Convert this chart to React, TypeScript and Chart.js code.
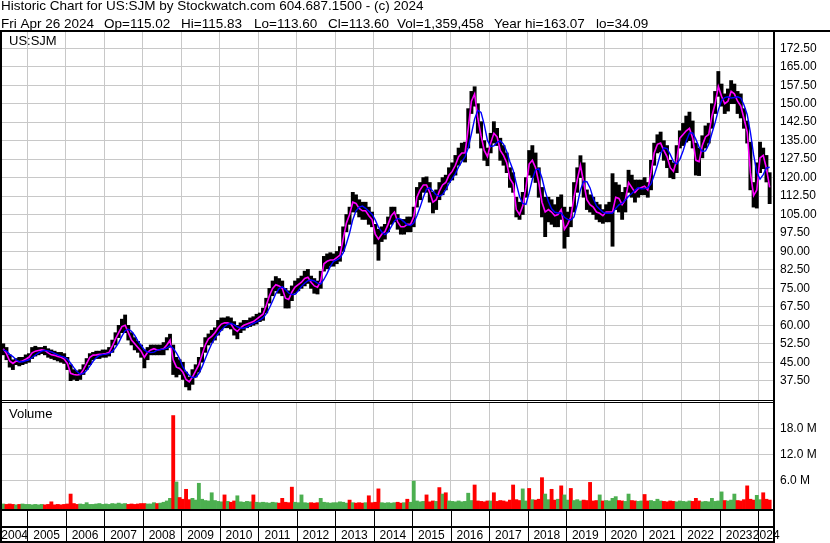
import React, { useEffect, useRef } from "react";
import { Chart, registerables } from "chart.js";

Chart.register(...registerables);

// ---------- data (monthly, May 2004 .. Apr 2024) ----------
const FIRST_YEAR = 2004;
const FIRST_MONTH = 5; // May

const HI = [
  52.5, 51, 48, 46, 46.5, 47, 47, 48,
  48.5, 51, 51.5, 51, 51, 51.5, 50.5, 50, 49.5, 49, 49, 48.5,
  47, 44, 42, 41.5, 42, 44, 46.5, 48.5, 49, 49.5, 49.5, 50,
  50, 51, 54, 57, 60, 62.5, 64.2, 60, 57, 55, 53.5, 52,
  50, 51, 52, 52, 52, 52, 53, 55, 56.4, 52, 47, 46,
  45, 41, 39, 42, 44, 47, 51, 55, 56.5, 58, 59, 62,
  63, 63, 63.5, 63, 61.5, 60, 61, 62, 62, 63, 63.5, 64.5,
  65, 67, 71, 75, 78, 79.8, 79, 78, 75, 74, 76, 78,
  79, 80, 82, 82.7, 80, 79, 78, 82, 88, 89, 89.5, 89,
  90, 92, 100, 105, 108, 114, 113, 111, 110, 110, 108, 106,
  101, 99, 100, 101, 104, 108, 108, 105, 103, 103, 104, 104,
  108, 116, 118, 120, 120.3, 118, 114, 115, 118, 120, 121, 124,
  126, 129, 132, 134, 134.4, 148, 155, 156.9, 150, 142.7, 135, 132,
  138, 142.7, 140, 136, 133, 130, 124, 122, 112, 110, 114, 120,
  131, 133, 130, 124, 116, 112, 112, 111, 109, 112, 113, 108,
  106, 108, 118, 124, 128.9, 126, 115, 113, 112, 110, 109, 107,
  109, 110, 121.6, 118, 117, 114, 116, 123, 121, 119, 119, 119,
  120, 118, 127, 134, 137.4, 138.5, 135, 133, 127, 126, 133, 139,
  142, 145, 146.6, 143, 134, 132, 137, 141, 142, 150, 155, 163.1,
  158, 154, 156, 159.4, 158, 155, 154, 148, 143, 134.4, 118, 126,
  134.4, 132, 129, 122,
];

const LO = [
  48, 46, 43, 42, 44, 43.5, 44, 44.5,
  45, 46.5, 47.5, 48, 48.5, 48, 47, 46.5, 46, 45.5, 45, 44.5,
  42, 37.5, 38, 37.5, 38, 40, 42, 44, 46, 46.5, 46.5, 47,
  47, 47.5, 49, 52, 55, 57, 57, 54, 52, 50, 49, 47,
  42.7, 46, 48, 48, 48, 48, 48, 50, 51, 40, 39, 40,
  38, 35, 33.7, 36, 39, 41, 45, 49, 52, 53, 54, 56,
  58, 59, 59, 58.5, 56, 54.5, 57, 58, 59, 59.5, 60, 60.5,
  61.5, 62, 65, 69, 72, 74, 73, 72, 67, 67, 70, 73,
  74, 75, 76, 77, 75, 73, 72.7, 75, 82, 83, 84, 84,
  85, 86, 90, 98, 101, 106, 106, 104, 103, 103, 101, 100,
  93, 86.4, 94, 95, 98, 101, 102, 99, 97, 97, 98, 98,
  100, 108, 111, 114, 114, 110, 105.6, 107, 111, 113, 115, 118,
  119, 121, 125, 127, 126.3, 132, 146, 149, 138, 132, 127, 124.8,
  130, 134, 133, 127, 125, 122, 116, 114, 104, 103, 105, 112,
  121, 120, 118, 112, 104, 96, 102, 101, 100, 100, 103, 91.3,
  96, 100, 106, 114, 120, 112, 107, 106, 105, 103, 102, 101.4,
  102, 102, 92.1, 107, 106, 103, 106, 114, 112, 110, 112, 113,
  113, 112, 115, 125, 130, 130.5, 127, 124, 120, 119.5, 122, 132,
  133, 134.4, 135, 132, 121, 120.8, 128, 132, 134, 140, 146, 153,
  149, 146, 147, 150, 150, 146, 144.2, 140, 134, 115, 108, 107.6,
  122, 123.6, 118.2, 109.4,
];

const MA_FAST = [
  50.5, 48.5, 45.5, 44.5, 45.5, 45.2, 45.5, 46.2,
  47, 48.8, 49.5, 49.8, 50, 49.8, 48.8, 48, 47.8, 47.3, 47, 46.3,
  44.5, 40.5, 40, 39.8, 40, 42, 44.5, 47, 47.9, 48, 48.2, 48.3,
  48.5, 49, 51.5, 54.5, 57, 59.5, 60, 57, 54, 52.5, 51, 49.5,
  47, 49, 50, 50.5, 50, 50.2, 50.5, 52, 54, 46, 43, 42.5,
  41, 38, 37, 39, 41.5, 44, 48, 52, 54.5, 55.5, 57, 59,
  60.5, 61, 61, 60.5, 58.5, 57.5, 59, 60, 60.5, 61, 61.5, 62.5,
  63.5, 64.5, 68, 72, 75, 76.5, 76, 75, 71, 70.5, 73.5, 75.5,
  76.5, 77.5, 79, 79.5, 77.5, 76, 75.5, 78, 85, 86, 86.5, 86.5,
  87.5, 88.5, 95, 101.5, 105, 110, 109.5, 107.5, 106.5, 106.5, 104.5, 103,
  97, 95, 97, 98, 101, 104.5, 106, 102, 100, 100, 101, 101,
  104, 112, 115, 117, 117, 114, 110, 111, 114.5, 117, 118, 121,
  122.5, 125, 128.5, 130, 130, 140, 151, 154, 144, 137, 131, 128.5,
  134, 138, 136.5, 131, 129, 126, 119.5, 117.5, 107, 105, 108.5, 116,
  125.5, 127, 124, 118, 110, 106, 107, 106, 104.5, 105, 107, 99,
  101, 104, 112, 119, 125, 118, 111, 109, 108, 106, 105.5, 104.5,
  106, 106, 106, 112, 111.5, 109, 111, 118, 116, 114, 115.5, 116,
  116.5, 115, 122, 130, 133.5, 134, 131, 128.5, 124, 122.5, 127, 136,
  137.5, 139, 140, 136, 127, 126.5, 133, 136.5, 137.5, 145, 150, 157,
  153, 150, 151, 155, 154, 151, 149, 144, 138.5, 122, 112.7, 115,
  128, 129, 123.7, 116,
];

const MA_SLOW = [
  50.0, 49.5, 48.2, 47.3, 46.0, 45.2, 45.2, 45.6,
  46.0, 46.9, 47.9, 48.8, 49.5, 49.8, 49.6, 49.2, 48.6, 48.0, 47.5, 47.1,
  46.3, 44.6, 42.8, 41.2, 40.1, 40.5, 41.6, 43.4, 45.4, 46.9, 47.8, 48.1,
  48.3, 48.5, 49.3, 50.9, 53.0, 55.6, 57.8, 58.4, 57.6, 55.9, 53.6, 51.8,
  50.0, 49.1, 48.9, 49.1, 49.9, 50.2, 50.3, 50.7, 51.7, 50.6, 48.8, 46.4,
  43.1, 41.1, 39.6, 38.8, 38.9, 40.4, 43.1, 46.4, 49.6, 52.5, 54.8, 56.5,
  58.0, 59.4, 60.4, 60.8, 60.3, 59.4, 58.9, 58.8, 59.3, 60.1, 60.8, 61.4,
  62.1, 63.0, 64.6, 67.0, 69.9, 72.9, 74.9, 75.6, 74.6, 73.1, 72.5, 72.6,
  74.0, 75.8, 77.1, 78.1, 78.4, 78.0, 77.1, 76.8, 78.6, 81.1, 83.9, 86.0,
  86.6, 87.3, 89.4, 93.1, 97.5, 102.9, 106.5, 108.0, 108.4, 107.5, 106.3, 105.1,
  102.8, 99.9, 98.0, 96.8, 97.8, 100.1, 102.4, 103.4, 103.1, 102.0, 100.8, 100.5,
  101.5, 104.5, 108.0, 112.0, 115.3, 115.8, 114.5, 113.0, 112.4, 113.1, 115.1, 117.6,
  119.6, 121.6, 124.3, 126.5, 128.4, 132.1, 137.8, 143.8, 147.3, 146.5, 141.5, 135.1,
  132.6, 132.9, 134.3, 134.9, 133.6, 130.6, 126.4, 123.0, 117.5, 112.3, 109.5, 109.1,
  113.8, 119.3, 123.1, 123.6, 119.8, 114.5, 110.3, 107.3, 105.9, 105.6, 105.6, 103.9,
  103.0, 102.8, 104.0, 109.0, 115.0, 118.5, 118.3, 115.8, 111.5, 108.5, 107.1, 106.0,
  105.5, 105.5, 105.6, 107.5, 108.9, 109.6, 110.9, 112.4, 113.5, 114.8, 115.9, 115.4,
  115.5, 115.8, 117.4, 120.9, 125.1, 129.9, 132.1, 131.8, 129.4, 126.5, 125.5, 127.4,
  130.8, 134.9, 138.1, 138.1, 135.5, 132.4, 130.6, 130.8, 133.4, 138.0, 142.3, 147.4,
  151.3, 152.5, 152.8, 152.3, 152.5, 152.8, 152.3, 149.5, 145.6, 138.4, 129.3, 122.1,
  119.4, 121.2, 123.9, 124.2,
];

// volume in millions of shares
const VOLUME = [
  0.5, 0.4, 0.5, 0.4, 0.3, 0.4, 0.5, 0.4,
  0.4, 0.3, 0.4, 0.3, 0.4, 0.3, 0.4, 1.0, 0.3, 0.4, 0.3, 0.4,
  0.5, 2.8, 0.6, 0.4, 0.5, 0.4, 0.8, 0.4, 0.4, 0.5, 0.6, 0.4,
  0.5, 0.4, 0.6, 0.5, 0.7, 0.5, 0.6, 0.4, 0.5, 0.4, 0.5, 0.6,
  0.6, 0.5, 0.5, 0.8, 0.6, 0.7, 0.9, 1.2, 1.8, 21.0, 5.6, 2.0,
  1.6, 3.9, 1.5, 1.8, 1.4, 5.3, 1.6, 1.3, 1.2, 3.1, 1.3, 1.1,
  1.0, 2.6, 1.1, 0.9, 1.2, 2.4, 1.0, 0.9, 1.1, 1.0, 2.6, 0.9,
  0.8, 0.9, 0.8, 0.7, 0.9, 0.8, 0.7, 1.8, 0.9, 0.8, 4.4, 0.9,
  0.8, 2.6, 0.8, 0.7, 0.8, 0.7, 0.8, 1.8, 0.9, 0.8, 0.7, 0.8,
  0.8, 1.0, 0.9, 0.7, 1.4, 0.8, 0.7, 0.8, 0.7, 0.8, 2.4, 0.8,
  0.9, 4.0, 0.8, 0.7, 0.8, 0.7, 0.8, 0.9, 0.7, 0.8, 1.6, 0.9,
  5.8, 1.2, 1.0, 1.1, 2.6, 1.0, 1.2, 1.1, 4.3, 2.8, 3.1, 1.2,
  1.1, 1.0, 1.2, 1.0, 1.1, 3.0, 1.3, 4.9, 1.2, 1.1, 1.0, 1.2,
  1.2, 3.1, 1.1, 1.3, 1.2, 1.0, 1.4, 4.9, 1.5, 1.3, 4.0, 1.2,
  4.1, 1.5, 1.4, 1.6, 6.6, 2.8, 1.5, 3.9, 1.4, 1.6, 4.7, 2.6,
  1.4, 4.1, 1.3, 1.5, 1.2, 1.4, 1.3, 5.5, 1.2, 1.3, 2.6, 1.2,
  1.3, 1.2, 1.8, 2.2, 1.3, 1.2, 1.1, 2.8, 1.3, 1.2, 1.1, 1.2,
  2.7, 1.2, 1.3, 1.1, 1.6, 1.2, 1.1, 1.0, 1.2, 1.1, 1.0, 1.2,
  1.1, 1.0, 1.2, 1.1, 1.8, 1.2, 1.0, 1.1, 1.0, 1.8, 1.1, 1.2,
  3.3, 1.3, 1.2, 1.4, 2.8, 1.3, 1.2, 1.5, 4.7, 1.6, 1.4, 2.5,
  1.5, 3.1, 1.6, 1.4,
];

// g = up month (green), r = down month (red)
const VOL_DIR =
  "grrrgrgggg" + "gggrrrrrrr" + "rrrrgggggg" + "gggggggggr" +
  "rrrrrgggrg" + "gggrgrrrrg" + "gggggggggr" + "grrgggggrg" +
  "ggggggrrrr" + "rgggggrrrg" + "ggggggggrg" + "rrrgrrrrgg" +
  "gggrrgrggg" + "ggrrrgrgrg" + "gggggggrrr" + "rrgrrrrrrr" +
  "rrggrgrrrg" + "grrgrggrgg" + "grrrrrgrgg" + "ggrrggrrgg" +
  "rrggggrrrr" + "gggggrrrgg" + "gggggrgggr" + "rrrrrggrrr";

const YEARS = [2004, 2005, 2006, 2007, 2008, 2009, 2010, 2011, 2012, 2013, 2014,
  2015, 2016, 2017, 2018, 2019, 2020, 2021, 2022, 2023, 2024];
const PRICE_TICKS = [37.5, 45, 52.5, 60, 67.5, 75, 82.5, 90, 97.5, 105, 112.5, 120,
  127.5, 135, 142.5, 150, 157.5, 165, 172.5];
const VOL_TICKS = [6, 12, 18];

const HEADER_1 = "Historic Chart for US:SJM by Stockwatch.com 604.687.1500 - (c) 2024";
const HEADER_2 = ["Fri Apr 26 2024", "Op=115.02", "Hi=115.83", "Lo=113.60", "Cl=113.60",
  "Vol=1,359,458", "Year hi=163.07", "lo=34.09"];
const SYMBOL = "US:SJM";
const VOL_LABEL = "Volume";

// ---------- layout / style ----------
const W = 830, H = 543;
const PLOT_L = 2, PLOT_R = 774;
const PRICE_T = 31, PRICE_B = 400, VOL_T = 402, VOL_B = 510;
const X_MIN = 2004.342, X_MAX = 2024.405;
const PRICE_MIN = 29.66, PRICE_MAX = 179.53;
const VOL_MIN = -0.9, VOL_MAX = 24.14;
const GRID = "#c8c8c8";
const FONT = '"Liberation Sans", Arial, sans-serif';
const HEADER_2_X = [1, 104, 181, 254, 328, 397, 494, 596];
const RED = "#ff0000", GREEN = "#4caf50";

const monthX = (i: number) => FIRST_YEAR + (FIRST_MONTH - 1 + i + 0.5) / 12;

const framePlugin = {
  id: "frame",
  afterDraw(chart: any) {
    const ctx = chart.ctx;
    const xs = chart.scales.x;
    ctx.save();
    ctx.fillStyle = "#000";
    ctx.textAlign = "left";
    ctx.textBaseline = "alphabetic";
    ctx.font = `13.5px ${FONT}`;
    ctx.fillText(HEADER_1, 1, 10);
    HEADER_2.forEach((s, k) => ctx.fillText(s, HEADER_2_X[k], 28));
    ctx.font = `13px ${FONT}`;
    ctx.fillText(SYMBOL, 9, 45);
    ctx.fillText(VOL_LABEL, 9, 418);

    // year labels (drawn before the frame so borders overlap them)
    ctx.font = `12px ${FONT}`;
    ctx.textAlign = "center";
    YEARS.forEach((y) => {
      const a = Math.max(xs.getPixelForValue(y), PLOT_L);
      const b = Math.min(xs.getPixelForValue(y + 1), PLOT_R);
      ctx.fillText(String(y), (a + b) / 2, 539);
    });

    // frame lines
    ctx.fillRect(0, 30, W, 2);
    ctx.fillRect(0, 30, 2, H - 30);
    ctx.fillRect(773, 30, 2, H - 30);
    ctx.fillRect(0, 400, 775, 1);
    ctx.fillRect(0, 402, 775, 1);
    ctx.fillRect(0, 509, 775, 2);
    ctx.fillRect(0, 526, 775, 2);
    ctx.fillRect(0, 541, 775, 2);
    YEARS.forEach((y) => {
      const p = xs.getPixelForValue(y);
      if (p > PLOT_L && p < PLOT_R) ctx.fillRect(Math.round(p), 511, 1, 31);
    });
    ctx.restore();
  },
};

function xScale() {
  return {
    type: "linear",
    min: X_MIN,
    max: X_MAX,
    offset: false,
    afterBuildTicks: (s: any) => {
      s.ticks = YEARS.slice(1).map((v) => ({ value: v }));
    },
    afterFit: (s: any) => {
      s.height = 0;
    },
    ticks: { display: false },
    grid: { color: GRID, drawTicks: false, offset: false },
    border: { display: false },
  };
}

export default function App() {
  const priceRef = useRef<HTMLCanvasElement>(null);
  const volRef = useRef<HTMLCanvasElement>(null);

  useEffect(() => {
    document.body.style.margin = "0";
    const price = new Chart(priceRef.current as HTMLCanvasElement, {
      type: "bar",
      data: {
        datasets: [
          {
            type: "line",
            label: "Slow MA",
            data: MA_SLOW.map((v, i) => ({ x: monthX(i), y: v })),
            borderColor: "#0000ff",
            borderWidth: 1.4,
            pointRadius: 0,
            order: 1,
          },
          {
            type: "line",
            label: "Fast MA",
            data: MA_FAST.map((v, i) => ({ x: monthX(i), y: v })),
            borderColor: "#ff00ff",
            borderWidth: 1.6,
            pointRadius: 0,
            order: 2,
          },
          {
            type: "bar",
            label: "Range",
            data: HI.map((h, i) => ({ x: monthX(i), y: [LO[i], h] })),
            backgroundColor: "#000",
            barPercentage: 1,
            categoryPercentage: 1,
            order: 3,
          },
        ],
      } as any,
      options: {
        animation: false,
        responsive: false,
        devicePixelRatio: 1,
        layout: { padding: { left: PLOT_L, top: PRICE_T, right: 0, bottom: H - PRICE_B } },
        plugins: { legend: { display: false }, tooltip: { enabled: false } },
        scales: {
          x: xScale(),
          y: {
            position: "right",
            min: PRICE_MIN,
            max: PRICE_MAX,
            afterBuildTicks: (s: any) => {
              s.ticks = PRICE_TICKS.map((v) => ({ value: v }));
            },
            afterFit: (s: any) => {
              s.width = W - PLOT_R;
            },
            ticks: {
              callback: (v: any) => Number(v).toFixed(2),
              font: { family: FONT, size: 12 },
              color: "#000",
              padding: 6,
            },
            grid: { color: GRID, drawTicks: false },
            border: { display: false },
          },
        },
      } as any,
    });

    const vol = new Chart(volRef.current as HTMLCanvasElement, {
      type: "bar",
      data: {
        datasets: [
          {
            label: "Volume",
            data: VOLUME.map((v, i) => ({ x: monthX(i), y: v })),
            backgroundColor: VOL_DIR.split("").map((c) => (c === "g" ? GREEN : RED)),
            base: VOL_MIN,
            barPercentage: 1,
            categoryPercentage: 1,
          },
        ],
      } as any,
      options: {
        animation: false,
        responsive: false,
        devicePixelRatio: 1,
        layout: { padding: { left: PLOT_L, top: VOL_T, right: 0, bottom: H - VOL_B } },
        plugins: { legend: { display: false }, tooltip: { enabled: false } },
        scales: {
          x: xScale(),
          y: {
            position: "right",
            min: VOL_MIN,
            max: VOL_MAX,
            afterBuildTicks: (s: any) => {
              s.ticks = VOL_TICKS.map((v) => ({ value: v }));
            },
            afterFit: (s: any) => {
              s.width = W - PLOT_R;
            },
            ticks: {
              callback: (v: any) => `${Number(v).toFixed(1)} M`,
              font: { family: FONT, size: 12 },
              color: "#000",
              padding: 6,
            },
            grid: { color: GRID, drawTicks: false },
            border: { display: false },
          },
        },
      } as any,
      plugins: [framePlugin],
    });

    return () => {
      price.destroy();
      vol.destroy();
    };
  }, []);

  return (
    <div style={{ position: "absolute", left: 0, top: 0, width: W, height: H, background: "#fff" }}>
      <canvas ref={priceRef} width={W} height={H} style={{ position: "absolute", left: 0, top: 0 }} />
      <canvas ref={volRef} width={W} height={H} style={{ position: "absolute", left: 0, top: 0 }} />
    </div>
  );
}
